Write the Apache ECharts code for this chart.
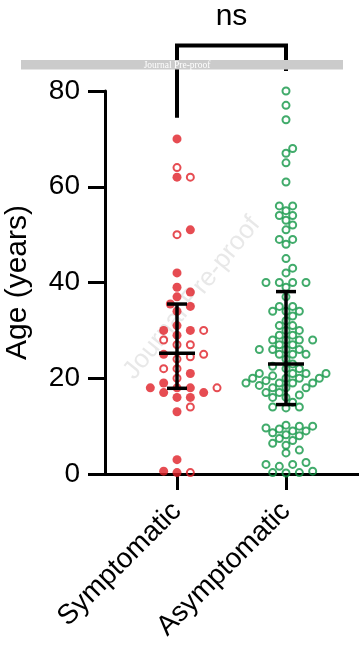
<!DOCTYPE html>
<html>
<head>
<meta charset="utf-8">
<script src="https://cdn.jsdelivr.net/npm/echarts@6/dist/echarts.min.js"></script>
<style>
html,body{margin:0;padding:0;background:#fff;}
#chart{width:359px;height:645px;}
</style>
</head>
<body>
<div id="chart"></div>
<script>
// ---------------- data ----------------
const categories = ['Symptomatic', 'Asymptomatic'];
const yTickValues = [0, 20, 40, 60, 80];

// Symptomatic group: filled and open red circles (ages, years)
const symptomaticFilled = [70, 62, 51, 42, 39, 38, 37, 35.5, 35, 34, 31, 30, 30, 29, 25, 21, 19, 18, 18, 18, 17, 17, 16, 16, 13, 3, 0.6, 0.3];
const symptomaticOpen = [64, 62, 50, 30, 28, 27, 27, 25, 24.5, 24, 22, 22, 20, 18, 14, 0.3];

// Asymptomatic group: open green circles
const asymptomaticOpen = [
  80, 77, 74, 68, 67, 65, 61, 56, 56, 55, 54, 54, 53, 52, 51, 49, 49, 48, 45, 43, 42, 40, 40, 40, 40, 39,
  37, 35, 35, 34, 34, 34, 33, 32, 31, 31, 30, 30,
  29, 29, 28, 28, 28, 28, 27, 27, 26, 26, 26, 26, 25, 25, 25,
  24, 23, 22.5, 22, 22, 21, 21, 21, 21, 20.5, 20, 20, 20, 20, 19.5, 19, 19, 19, 19, 18.5, 18, 18, 18, 17, 17, 16.5, 16, 16, 15,
  14, 14, 13.8,
  10.2, 10, 10, 9.6, 9.4, 9, 9, 8.6, 8.2, 8, 7.4, 7, 6.4, 6, 5, 4.4, 2.4, 2, 2, 1.6, 0.6, 0.3, 0.2, 0.3
];

// median and interquartile range per group
const medians = [25.2, 23.0];
const quartile1 = [17.9, 14.5];
const quartile3 = [35.5, 38.1];

// significance annotation
const significanceLabel = 'ns';
const bracketTop = 89.5;
const bracketLeftEnd = 74.4;
const bracketRightEnd = 84.2;
const labelLevel = 95.5;

// ---------------- styling ----------------
const RED = '#e01f27';
const GREEN = '#119646';
const FONT = 'Liberation Sans, Arial, sans-serif';

const chart = echarts.init(document.getElementById('chart'), null, {renderer: 'canvas'});

const baseOption = {
  animation: false,
  backgroundColor: '#ffffff',
  grid: [
    {left: 105, right: 0, top: 91, bottom: 171, containLabel: false, outerBoundsMode: 'none'},
    {left: 122.5, right: 18.5, top: 91, bottom: 171, containLabel: false, outerBoundsMode: 'none'}
  ],
  xAxis: [
    {
      type: 'value', gridIndex: 0, min: 0.3394, max: 2.6697,
      axisLine: {show: true, onZero: false, lineStyle: {color: '#000', width: 3}},
      axisTick: {show: false}, axisLabel: {show: false}, splitLine: {show: false}
    },
    {
      type: 'category', gridIndex: 1, data: categories, boundaryGap: true,
      axisLine: {show: false},
      axisTick: {show: true, alignWithLabel: true, length: 16, lineStyle: {color: '#000', width: 3}},
      axisLabel: {rotate: 45, fontSize: 28, color: '#000', fontFamily: FONT, margin: 33, interval: 0},
      splitLine: {show: false}
    }
  ],
  yAxis: [
    {
      type: 'value', gridIndex: 0, min: yTickValues[0], max: yTickValues[yTickValues.length - 1],
      interval: yTickValues[1] - yTickValues[0],
      name: 'Age (years)', nameLocation: 'middle', nameGap: 72,
      nameTextStyle: {fontSize: 30, color: '#000', fontFamily: FONT},
      axisLine: {show: true, onZero: false, lineStyle: {color: '#000', width: 3}},
      axisTick: {show: true, length: 17, lineStyle: {color: '#000', width: 3}},
      axisLabel: {fontSize: 28, color: '#000', fontFamily: FONT, margin: 25},
      splitLine: {show: false}
    },
    {
      type: 'value', gridIndex: 1, min: 0, max: 80, show: false
    }
  ],
  series: []
};

chart.setOption(baseOption);

// pixel scales from the library's axes
const pxPerY = chart.convertToPixel({yAxisIndex: 0}, 0) - chart.convertToPixel({yAxisIndex: 0}, 1);
const pxPerX = chart.convertToPixel({xAxisIndex: 0}, 2) - chart.convertToPixel({xAxisIndex: 0}, 1);

// beeswarm layout (half-step slots, collision avoidance)
function swarm(values, halfStepPx, minDist) {
  const order = values.map((v, i) => i).sort((a, b) => (values[a] - values[b]) || (a - b));
  const placed = [];
  const slots = new Array(values.length);
  for (const idx of order) {
    const y = values[idx] * pxPerY;
    const near = placed.filter(p => Math.abs(p.y - y) < minDist);
    const bal = near.reduce((s, p) => s + p.k, 0);
    for (let m = 0; m < 60; m++) {
      const cands = m === 0 ? [0] : (bal > 0 ? [-m, m] : [m, -m]);
      let found = null;
      for (const k of cands) {
        const ok = near.every(p => {
          const dx = (k - p.k) * halfStepPx;
          const dy = p.y - y;
          return dx * dx + dy * dy >= minDist * minDist;
        });
        if (ok) { found = k; break; }
      }
      if (found !== null) {
        placed.push({y: y, k: found});
        slots[idx] = found;
        break;
      }
    }
  }
  return slots.map(k => k * halfStepPx / pxPerX);
}

const HALF = 6.67;
const symAll = symptomaticFilled.concat(symptomaticOpen);
const symOff = swarm(symAll, HALF, 8.6);
const asymOff = swarm(asymptomaticOpen, HALF, 7.6);

const symFilledPts = symptomaticFilled.map((v, i) => [1 + symOff[i], v]);
const symOpenPts = symptomaticOpen.map((v, i) => [1 + symOff[symptomaticFilled.length + i], v]);
const asymPts = asymptomaticOpen.map((v, i) => [2 + asymOff[i], v]);

const statsData = categories.map((c, i) => [i + 1, medians[i], quartile1[i], quartile3[i]]);

chart.setOption({
  graphic: [
    {
      type: 'text', x: 192, y: 298, rotation: 51 * Math.PI / 180, z: 0, silent: true,
      style: {text: 'Journal Pre-proof', font: '26px ' + FONT, fill: 'rgba(205,205,205,0.45)', align: 'center', verticalAlign: 'middle'}
    },
    {
      type: 'rect', shape: {x: 21, y: 60, width: 322, height: 9.5}, z: 100, silent: true,
      style: {fill: '#cbcbcb'}
    },
    {
      type: 'text', x: 177, y: 65, z: 101, silent: true,
      style: {text: 'Journal Pre-proof', font: '9.5px Liberation Serif, serif', fill: '#ffffff', align: 'center', verticalAlign: 'middle'}
    }
  ],
  series: [
    {
      type: 'scatter', xAxisIndex: 0, yAxisIndex: 0, data: symFilledPts, clip: false, silent: true,
      symbol: 'circle', symbolSize: 9, itemStyle: {color: RED}, z: 3
    },
    {
      type: 'scatter', xAxisIndex: 0, yAxisIndex: 0, data: symOpenPts, clip: false, silent: true,
      symbol: 'circle', symbolSize: 7, itemStyle: {color: 'rgba(255,255,255,0)', borderColor: RED, borderWidth: 2}, z: 3
    },
    {
      type: 'scatter', xAxisIndex: 0, yAxisIndex: 0, data: asymPts, clip: false, silent: true,
      symbol: 'circle', symbolSize: 7, itemStyle: {color: 'rgba(255,255,255,0)', borderColor: GREEN, borderWidth: 2}, z: 3
    },
    {
      type: 'custom', xAxisIndex: 0, yAxisIndex: 0, data: statsData, silent: true, z: 5,
      renderItem: function (params, api) {
        const x = api.value(0);
        const med = api.coord([x, api.value(1)]);
        const lo = api.coord([x, api.value(2)]);
        const hi = api.coord([x, api.value(3)]);
        const st = {stroke: '#000', lineWidth: 3.5};
        return {
          type: 'group',
          children: [
            {type: 'line', shape: {x1: med[0], y1: hi[1], x2: med[0], y2: lo[1]}, style: st},
            {type: 'line', shape: {x1: med[0] - 18, y1: med[1], x2: med[0] + 18, y2: med[1]}, style: st},
            {type: 'line', shape: {x1: med[0] - 10, y1: hi[1], x2: med[0] + 10, y2: hi[1]}, style: st},
            {type: 'line', shape: {x1: med[0] - 10, y1: lo[1], x2: med[0] + 10, y2: lo[1]}, style: st}
          ]
        };
      }
    },
    {
      type: 'line', xAxisIndex: 0, yAxisIndex: 0, silent: true, clip: false, z: 6,
      data: [[1, bracketLeftEnd], [1, bracketTop], [2, bracketTop], [2, bracketRightEnd]],
      symbol: 'none', lineStyle: {color: '#000', width: 4, join: 'miter', cap: 'butt'}
    },
    {
      type: 'custom', xAxisIndex: 0, yAxisIndex: 0, silent: true, z: 6,
      data: [[1.5, labelLevel]],
      renderItem: function (params, api) {
        const p = api.coord([api.value(0), api.value(1)]);
        return {
          type: 'text', x: p[0], y: p[1],
          style: {text: significanceLabel, font: '30px ' + FONT, fill: '#000', align: 'center', verticalAlign: 'middle'}
        };
      }
    }
  ]
});
</script>
</body>
</html>
